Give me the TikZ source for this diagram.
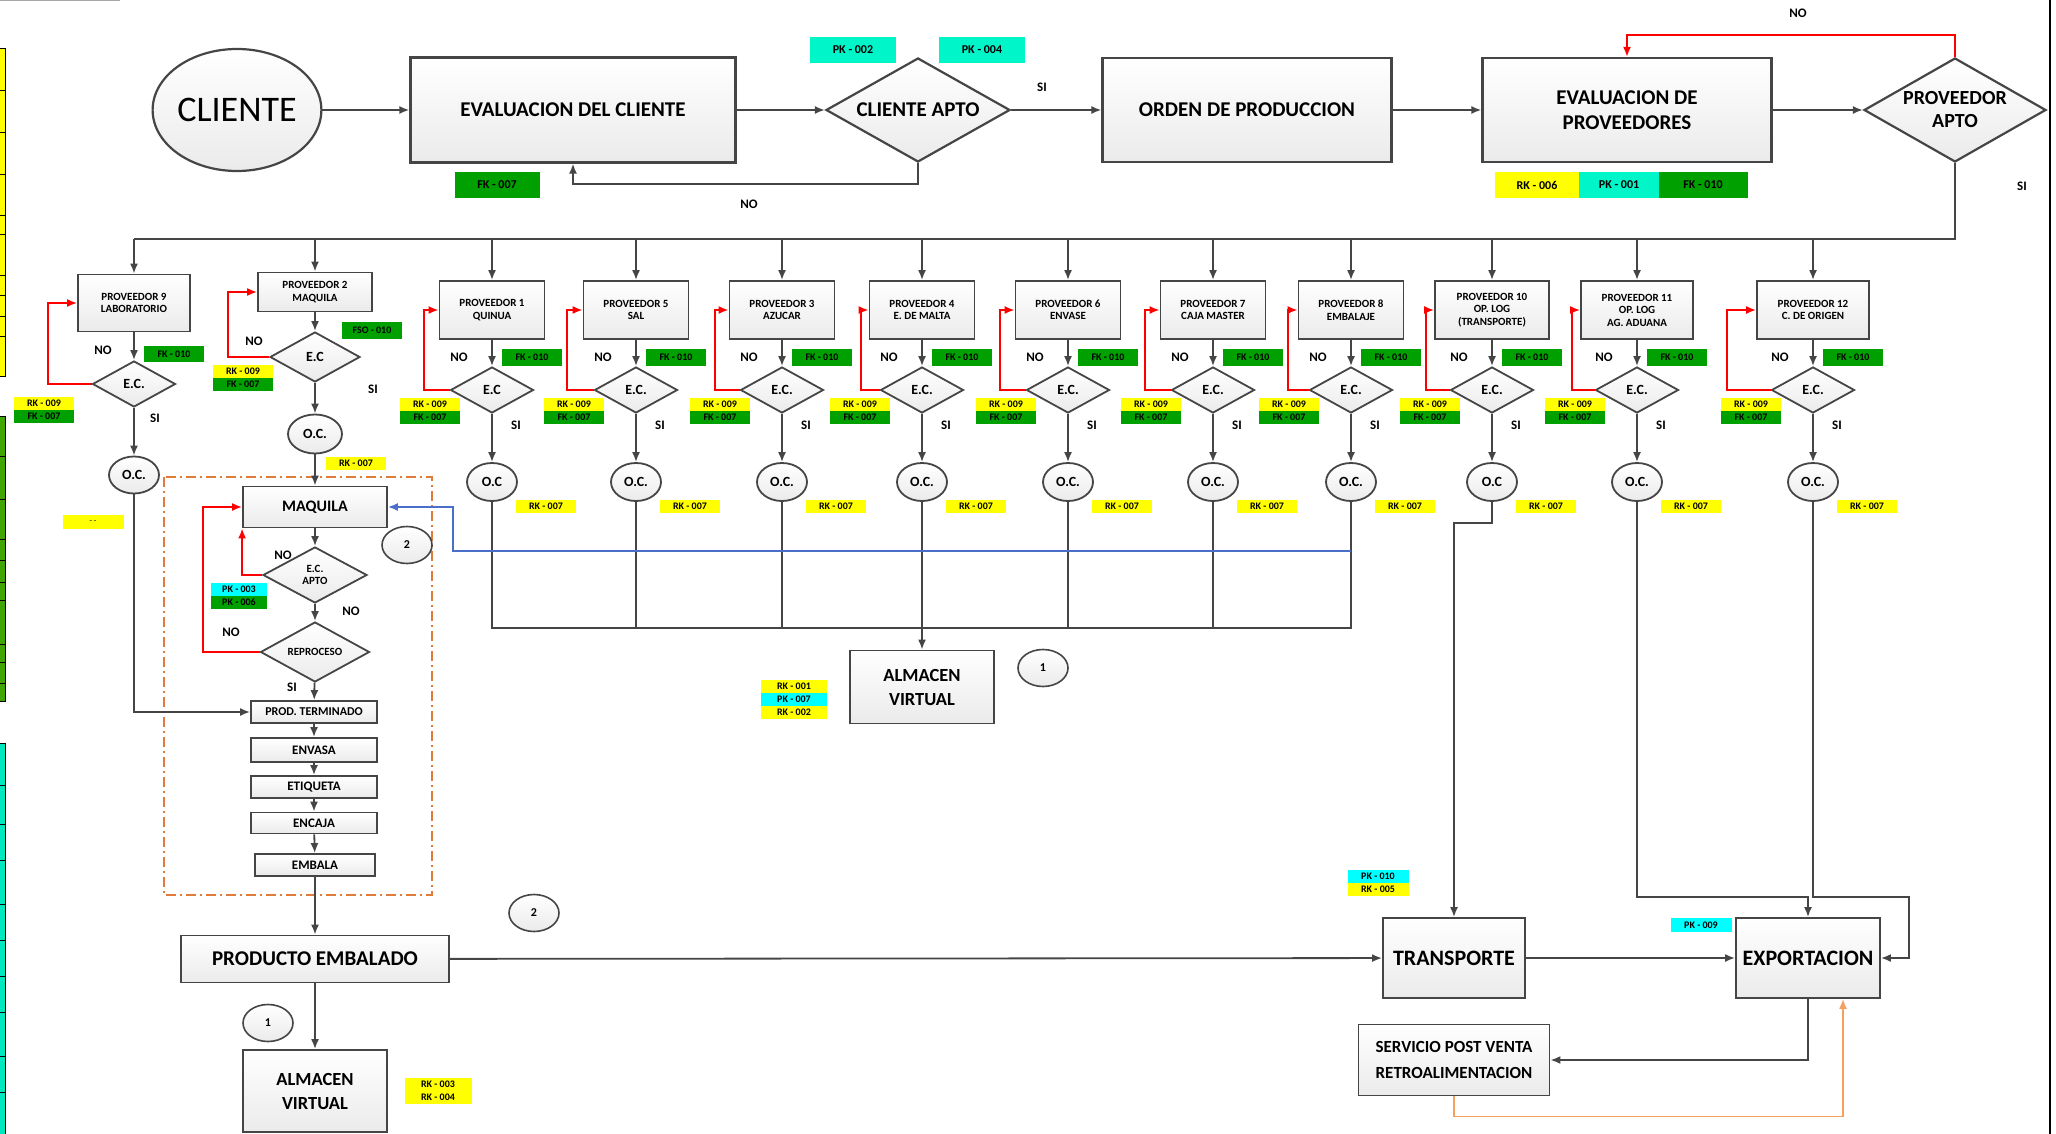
\documentclass[tikz,border=0pt]{standalone}
\usepackage{fontspec}
\setmainfont{Carlito}
\usetikzlibrary{shapes.geometric,arrows.meta}
\definecolor{lineg}{HTML}{454545}
\definecolor{rkyel}{HTML}{FFFF00}
\definecolor{pkcyan}{HTML}{00FFFF}
\definecolor{pkturq}{HTML}{00F5C8}
\definecolor{fkgreen}{HTML}{00A000}
\definecolor{loopblue}{HTML}{4A6FC8}
\definecolor{boxorange}{HTML}{E07B39}
\definecolor{fbkorange}{HTML}{F4A060}
\definecolor{stripyel}{HTML}{FFFF00}
\definecolor{stripgrn}{HTML}{3FA500}
\definecolor{stripcyn}{HTML}{00E8C0}
\begin{document}
\begin{tikzpicture}[x=1pt, y=-1pt,
  conn/.style={draw=lineg, line width=1.8pt, -{Latex[length=10pt,width=8pt]}},
  plain/.style={draw=lineg, line width=1.8pt},
  noloop/.style={draw=red, line width=1.8pt, -{Latex[length=10pt,width=8pt]}},
  bigbox/.style={draw=lineg, line width=2.2pt, top color=white, bottom color=gray!16, align=center, inner sep=2pt, font=\fontsize{21}{25}\selectfont\bfseries},
  provbox/.style={draw=lineg, line width=1.8pt, top color=white, bottom color=gray!16, align=center, inner sep=1pt, font=\fontsize{11}{12.5}\selectfont\bfseries},
  stepbox/.style={draw=lineg, line width=1.8pt, top color=white, bottom color=gray!16, align=center, inner sep=1pt, minimum width=126pt, font=\fontsize{13}{13}\selectfont\bfseries},
  decision/.style={diamond, draw=lineg, line width=1.8pt, top color=white, bottom color=gray!16, align=center, inner sep=0pt, shape aspect=1.8},
  ecdia/.style={decision, minimum width=83pt, minimum height=46pt, font=\fontsize{14}{14}\selectfont\bfseries},
  ocell/.style={ellipse, draw=lineg, line width=1.8pt, top color=white, bottom color=gray!16, inner sep=0pt, minimum width=50pt, minimum height=38pt, font=\fontsize{14}{14}\selectfont\bfseries},
  numcirc/.style={ellipse, draw=lineg, line width=1.6pt, top color=white, bottom color=gray!16, inner sep=0pt, minimum width=50pt, minimum height=37pt, font=\fontsize{12}{12}\selectfont\bfseries},
  tag/.style={inner sep=0pt, minimum width=60pt, minimum height=13pt, font=\fontsize{10}{10}\selectfont\bfseries},
  tagy/.style={tag, fill=rkyel},
  tagc/.style={tag, fill=pkcyan},
  tagg/.style={tag, fill=fkgreen},
  toptag/.style={tag, minimum width=86pt, minimum height=26pt, font=\fontsize{12}{12}\selectfont\bfseries},
  lbl/.style={inner sep=0pt, font=\fontsize{13}{13}\selectfont\bfseries}
]
\useasboundingbox (0,0) rectangle (2056,1134);
\draw[gray!70, line width=1pt] (0,1) -- (120,1);
\draw[black, line width=1.5pt] (2050,0) -- (2050,1134);
\draw[black, line width=1pt, fill=stripyel] (-1,49) rectangle (5,376);
\foreach \yy in {90,132,174,215,234,275,295,316,336} \draw[black, line width=0.8pt] (0,\yy) -- (5,\yy);
\draw[black, line width=1pt, fill=stripgrn] (-1,416) rectangle (5,701);
\foreach \yy in {456,499,539,560,582,600,644,662,683} \draw[black, line width=0.8pt] (0,\yy) -- (5,\yy);
\draw[black, line width=1pt, fill=stripcyn] (-1,743) rectangle (5,1140);
\foreach \yy in {785,824,860,904,940,976,1012,1056,1092} \draw[black, line width=0.8pt] (0,\yy) -- (5,\yy);

\node[ellipse, draw=lineg, line width=2.2pt, top color=white, bottom color=gray!16, minimum width=163pt, minimum height=122pt, inner sep=0pt, font=\fontsize{36}{36}\selectfont] (cliente) at (237,110) {CLIENTE};
\node[bigbox, minimum width=325pt, minimum height=105pt] (evcli) at (573,110) {EVALUACION DEL CLIENTE};
\node[decision, line width=2.2pt, minimum width=184pt, minimum height=104pt, font=\fontsize{21}{25}\selectfont\bfseries] (cliapto) at (918,110) {CLIENTE APTO};
\node[bigbox, minimum width=289pt, minimum height=104pt] (orden) at (1247,110) {ORDEN DE PRODUCCION};
\node[bigbox, minimum width=289pt, minimum height=104pt] (evprov) at (1627,110) {EVALUACION DE\\PROVEEDORES};
\node[decision, line width=2.2pt, minimum width=182pt, minimum height=104pt, font=\fontsize{20}{23}\selectfont\bfseries] (provapto) at (1955,110) {PROVEEDOR\\APTO};
\node[toptag, fill=pkturq] (pk002) at (853,50) {PK - 002};
\node[toptag, fill=pkturq] (pk004) at (982,50) {PK - 004};
\node[toptag, fill=fkgreen, minimum width=85pt] (fk007) at (497,185) {FK - 007};
\node[toptag, fill=rkyel, minimum width=84pt] (rk006) at (1537,185) {RK - 006};
\node[toptag, fill=pkturq, minimum width=80pt] (pk001) at (1619,185) {PK - 001};
\node[toptag, fill=fkgreen, minimum width=89pt] (fk010) at (1703,185) {FK - 010};
\node[lbl] (sicli) at (1042,87) {SI};
\node[lbl] (nocli) at (749,204) {NO};
\node[lbl] (noprov) at (1798,13) {NO};
\node[lbl] (siprov) at (2022,186) {SI};
\draw[conn] (cliente) -- (evcli);
\draw[conn] (evcli) -- (cliapto);
\draw[conn] (cliapto) -- (orden);
\draw[conn] (orden) -- (evprov);
\draw[conn] (evprov) -- (provapto);
\draw[conn] (cliapto.south) -- ++(0,21) -| (evcli.south);
\draw[noloop] (provapto.north) -- ++(0,-22) -| (evprov.north);
\coordinate (busR) at (1955,239);
\coordinate (busL) at (134,239);
\draw[plain] (provapto.south) -- (busR) -- (busL);

\node[provbox, minimum width=112pt, minimum height=57pt] (p9) at (134,303) {PROVEEDOR 9\\LABORATORIO};
\node[ecdia] (ec9) at (134,384) {E.C.};
\node[ocell, minimum height=37pt] (oc9) at (134,475) {O.C.};
\draw[conn] (p9.north |- busL) -- (p9.north);
\draw[conn] (p9) -- (ec9);
\draw[conn] (ec9) -- (oc9);
\draw[noloop] (ec9.west) -- ++(-44,0) |- (p9.west);
\node[tagg, minimum height=16pt] (fk9) at (174,354) {FK - 010};
\node[tagy] (rk9) at (44,403) {RK - 009};
\node[tagg] (fkb9) at (44,416) {FK - 007};
\node[lbl] (no9) at (103,350) {NO};
\node[lbl] (si9) at (155,418) {SI};
\node[tagy, minimum width=61pt, minimum height=14pt, font=\fontsize{6}{6}\selectfont\bfseries] (dash9) at (93,522) {-- --};

\node[provbox, minimum width=114pt, minimum height=39pt] (p2) at (315,292) {PROVEEDOR 2\\MAQUILA};
\node[ecdia, minimum width=90pt, minimum height=50pt] (ec2) at (315,357) {E.C};
\node[ocell, minimum width=54pt, minimum height=39pt] (oc2) at (315,434) {O.C.};
\draw[conn] (p2.north |- busL) -- (p2.north);
\draw[conn] (p2) -- (ec2);
\draw[conn] (ec2) -- (oc2);
\draw[noloop] (ec2.west) -- ++(-41,0) |- (p2.west);
\node[tagg, minimum height=17pt] (fso2) at (372,330) {FSO - 010};
\node[tagy] (rk2) at (243,371) {RK - 009};
\node[tagg] (fkb2) at (243,384) {FK - 007};
\node[lbl] (no2) at (254,341) {NO};
\node[lbl] (si2) at (373,389) {SI};
\node[tagy] (rko2) at (356,463) {RK - 007};

\foreach \nm/\x/\w/\txt/\off/\ect/\oct in {
  1/492/105/{PROVEEDOR 1\\QUINUA}/26/E.C/O.C,
  5/636/105/{PROVEEDOR 5\\SAL}/27/E.C./O.C.,
  3/782/105/{PROVEEDOR 3\\AZUCAR}/25/E.C./O.C.,
  4/922/105/{PROVEEDOR 4\\E. DE MALTA}/19/E.C./O.C.,
  6/1068/105/{PROVEEDOR 6\\ENVASE}/26/E.C./O.C.,
  7/1213/105/{PROVEEDOR 7\\CAJA MASTER}/26/E.C./O.C.,
  8/1351/105/{PROVEEDOR 8\\EMBALAJE}/21/E.C./O.C.,
  10/1492/114/{PROVEEDOR 10\\OP. LOG\\(TRANSPORTE)}/24/E.C./O.C,
  11/1637/112/{PROVEEDOR 11\\OP. LOG\\AG. ADUANA}/23/E.C./O.C.,
  12/1813/112/{PROVEEDOR 12\\C. DE ORIGEN}/44/E.C./O.C.}{
  \node[provbox, minimum width=\w pt, minimum height=58pt] (p\nm) at (\x,310) {\txt};
  \node[ecdia] (ec\nm) at (\x,390) {\ect};
  \node[ocell] (oc\nm) at (\x,482) {\oct};
  \draw[conn] (p\nm.north |- busL) -- (p\nm.north);
  \draw[conn] (p\nm) -- (ec\nm);
  \draw[conn] (ec\nm) -- (oc\nm);
  \draw[noloop] (ec\nm.west) -- ++(-\off,0) |- (p\nm.west);
  \node[tagg, minimum height=17pt] (fk\nm) at (\x+40,357) {FK - 010};
  \node[tagy] (rk\nm) at (\x-62,404) {RK - 009};
  \node[tagg] (fkb\nm) at (\x-62,417) {FK - 007};
  \node[lbl] (no\nm) at (\x-33,357) {NO};
  \node[lbl] (si\nm) at (\x+24,425) {SI};
  \node[tagy] (rko\nm) at (\x+54,506) {RK - 007};
}

\coordinate (joinL) at (492,628);
\coordinate (joinR) at (1351,628);
\draw[plain] (oc1.south) -- (joinL) -- (joinR) -- (oc8.south);
\foreach \nm in {5,3,6,7} \draw[plain] (oc\nm.south) -- (oc\nm.south |- joinL);
\node[bigbox, line width=1.8pt, minimum width=144pt, minimum height=73pt, font=\fontsize{18.5}{24}\selectfont\bfseries] (almv) at (922,687) {ALMACEN\\VIRTUAL};
\draw[conn] (oc4.south) -- (almv.north);
\node[numcirc] (uno) at (1043,668) {1};
\node[tagy, minimum width=66pt] (rk001) at (794,686) {RK - 001};
\node[tagc, minimum width=66pt] (pk007) at (794,699) {PK - 007};
\node[tagy, minimum width=66pt] (rk002) at (794,712) {RK - 002};

\draw[boxorange, line width=1.6pt, dash pattern=on 10pt off 4pt on 2pt off 4pt] (164,477) rectangle (432,895);
\node[stepbox, minimum width=144pt, minimum height=41pt, font=\fontsize{16}{16}\selectfont\bfseries] (maq) at (315,507) {MAQUILA};
\node[numcirc] (dos) at (407,545) {2};
\node[decision, minimum width=104pt, minimum height=56pt, font=\fontsize{11}{12.5}\selectfont\bfseries] (ecapto) at (315,575) {E.C.\\APTO};
\node[decision, minimum width=109pt, minimum height=60pt, font=\fontsize{11}{11}\selectfont\bfseries] (repro) at (315,652) {REPROCESO};
\node[stepbox, minimum height=22pt, font=\fontsize{12}{12}\selectfont\bfseries] (prodt) at (314,712) {PROD. TERMINADO};
\node[stepbox, minimum height=24pt] (envasa) at (314,750) {ENVASA};
\node[stepbox, minimum height=22pt] (etiq) at (314,787) {ETIQUETA};
\node[stepbox, minimum height=21pt] (encaja) at (314,823) {ENCAJA};
\node[stepbox, minimum width=120pt, minimum height=22pt] (embala) at (315,865) {EMBALA};
\node[tagc, minimum width=56pt] (pk003) at (239,589) {PK - 003};
\node[tagg, minimum width=56pt] (pk006) at (239,602) {PK - 006};
\node[lbl] (noap) at (283,555) {NO};
\node[lbl] (noap2) at (351,611) {NO};
\node[lbl] (nore) at (231,632) {NO};
\node[lbl] (sire) at (292,687) {SI};
\draw[conn] (oc2) -- (maq);
\draw[conn] (maq) -- (ecapto);
\draw[conn] (ecapto) -- (repro);
\draw[conn] (repro) -- (prodt);
\draw[conn] (prodt) -- (envasa);
\draw[conn] (envasa) -- (etiq);
\draw[conn] (etiq) -- (encaja);
\draw[conn] (encaja) -- (embala);
\draw[noloop] (ecapto.west) -| (maq.south west);
\draw[noloop] (repro.west) -- ++(-57,0) |- (maq.west);
\draw[conn] (oc9.south) |- (prodt.west);
\coordinate (blueR) at (1351,551);
\coordinate (blueL) at (453,551);
\draw[conn, draw=loopblue, line width=1.6pt] (blueR) -- (blueL) |- (maq.east);

\node[bigbox, line width=1.8pt, minimum width=268pt, minimum height=47pt] (prodemb) at (315,959) {PRODUCTO EMBALADO};
\node[bigbox, line width=1.8pt, minimum width=144pt, minimum height=82pt, font=\fontsize{18.5}{24}\selectfont\bfseries] (almv2) at (315,1091) {ALMACEN\\VIRTUAL};
\node[numcirc] (uno2) at (268,1023) {1};
\node[numcirc] (dos2) at (534,913) {2};
\node[tagy, minimum width=67pt] (rk003) at (438,1084) {RK - 003};
\node[tagy, minimum width=67pt] (rk004) at (438,1097) {RK - 004};
\draw[conn] (embala) -- (prodemb);
\draw[conn] (prodemb) -- (almv2);

\node[bigbox, line width=1.8pt, minimum width=142pt, minimum height=80pt, font=\fontsize{22}{22}\selectfont\bfseries] (transp) at (1454,958) {TRANSPORTE};
\node[bigbox, line width=1.8pt, minimum width=144pt, minimum height=80pt, font=\fontsize{22}{22}\selectfont\bfseries] (export) at (1808,958) {EXPORTACION};
\node[bigbox, line width=1.8pt, minimum width=191pt, minimum height=71pt, font=\fontsize{17}{26}\selectfont\bfseries] (serv) at (1454,1060) {SERVICIO POST VENTA\\RETROALIMENTACION};
\node[tagc, minimum width=61pt] (pk010) at (1378,876) {PK - 010};
\node[tagy, minimum width=61pt] (rk005) at (1378,889) {RK - 005};
\node[tagc, minimum width=61pt, minimum height=14pt] (pk009) at (1701,925) {PK - 009};
\draw[conn] (prodemb) -- (transp);
\draw[conn] (transp) -- (export);
\draw[conn] (oc10.south) -- ++(0,21) -| (transp.north);
\coordinate (j11) at (1637,897);
\coordinate (j12) at (1909,897);
\draw[conn] (oc11.south) -- (j11) -| (export.north);
\draw[conn] (oc12.south) |- (j12) |- (export.east);
\draw[conn] (export.south) |- (serv.east);
\draw[conn, draw=fbkorange, line width=1.6pt] (serv.south) -- ++(0,20) -| ([xshift=35pt]export.south);
\end{tikzpicture}
\end{document}
